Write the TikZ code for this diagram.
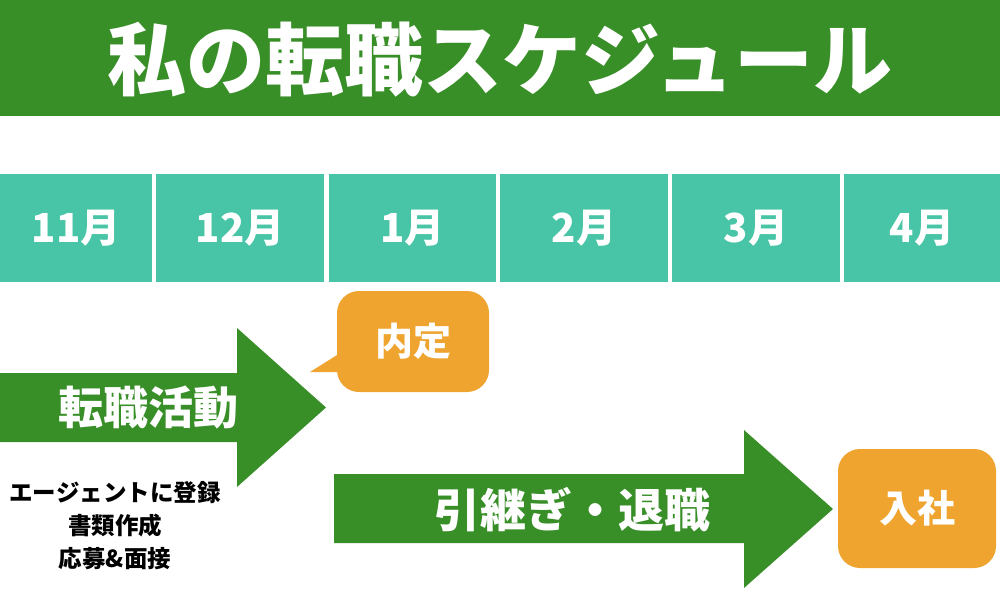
\documentclass[tikz,border=0pt]{standalone}
\usepackage{fontspec}
\setmainfont{Noto Sans CJK JP}
\definecolor{bargreen}{HTML}{388E27}
\definecolor{cellteal}{HTML}{48C4A6}
\definecolor{boxorange}{HTML}{EEA42E}
\begin{document}
\begin{tikzpicture}[x=1pt,y=-1pt,
	label/.style={text=white,font=\bfseries\fontsize{#1}{#1}\selectfont,inner sep=0pt},
	month/.style={fill=cellteal,minimum height=108pt,inner sep=0pt,text=white,font=\bfseries\fontsize{40}{40}\selectfont},
	badge/.style={fill=boxorange,rounded corners=22pt,inner sep=0pt,text=white,font=\bfseries\fontsize{38}{38}\selectfont}]
	\useasboundingbox (0,0) rectangle (1000,600);
	% title
	\fill[bargreen] (0,0) rectangle (1000,116);
	\node[label=79] (title) at (500,60) {私の転職スケジュール};
	% months
	\foreach \xa/\xb/\m in {0/152/11, 156/324/12, 329/496/1, 500/668/2, 672/840/3, 844/1000/4}
		\node[month,minimum width=\xb pt-\xa pt] (m\m) at ({(\xa+\xb)/2},228) {\m 月};
	% job hunting arrow
	\fill[bargreen] (0,373) -- (237,373) -- (237,328) -- (326,407.5) -- (237,487) -- (237,442) -- (0,442) -- cycle;
	\node[label=45] (hunt) at (148,408) {転職活動};
	\node[align=center,font=\bfseries\fontsize{23.5}{33}\selectfont,inner sep=0pt] (todo) at (115,526)
		{エージェントに登録\\書類作成\\応募\&面接};
	% offer
	\fill[boxorange] (345,350) -- (310,372) -- (345,372) -- cycle;
	\node[badge,minimum width=152pt,minimum height=101pt] (offer) at (413,341.5) {内定};
	% handover arrow
	\fill[bargreen] (334,474) -- (744,474) -- (744,430) -- (833,509) -- (744,588) -- (744,543) -- (334,543) -- cycle;
	\node[label=46] (handover) at (572,510) {引継ぎ・退職};
	% join
	\node[badge,minimum width=158pt,minimum height=119pt] (join) at (917,508.5) {入社};
\end{tikzpicture}
\end{document}
